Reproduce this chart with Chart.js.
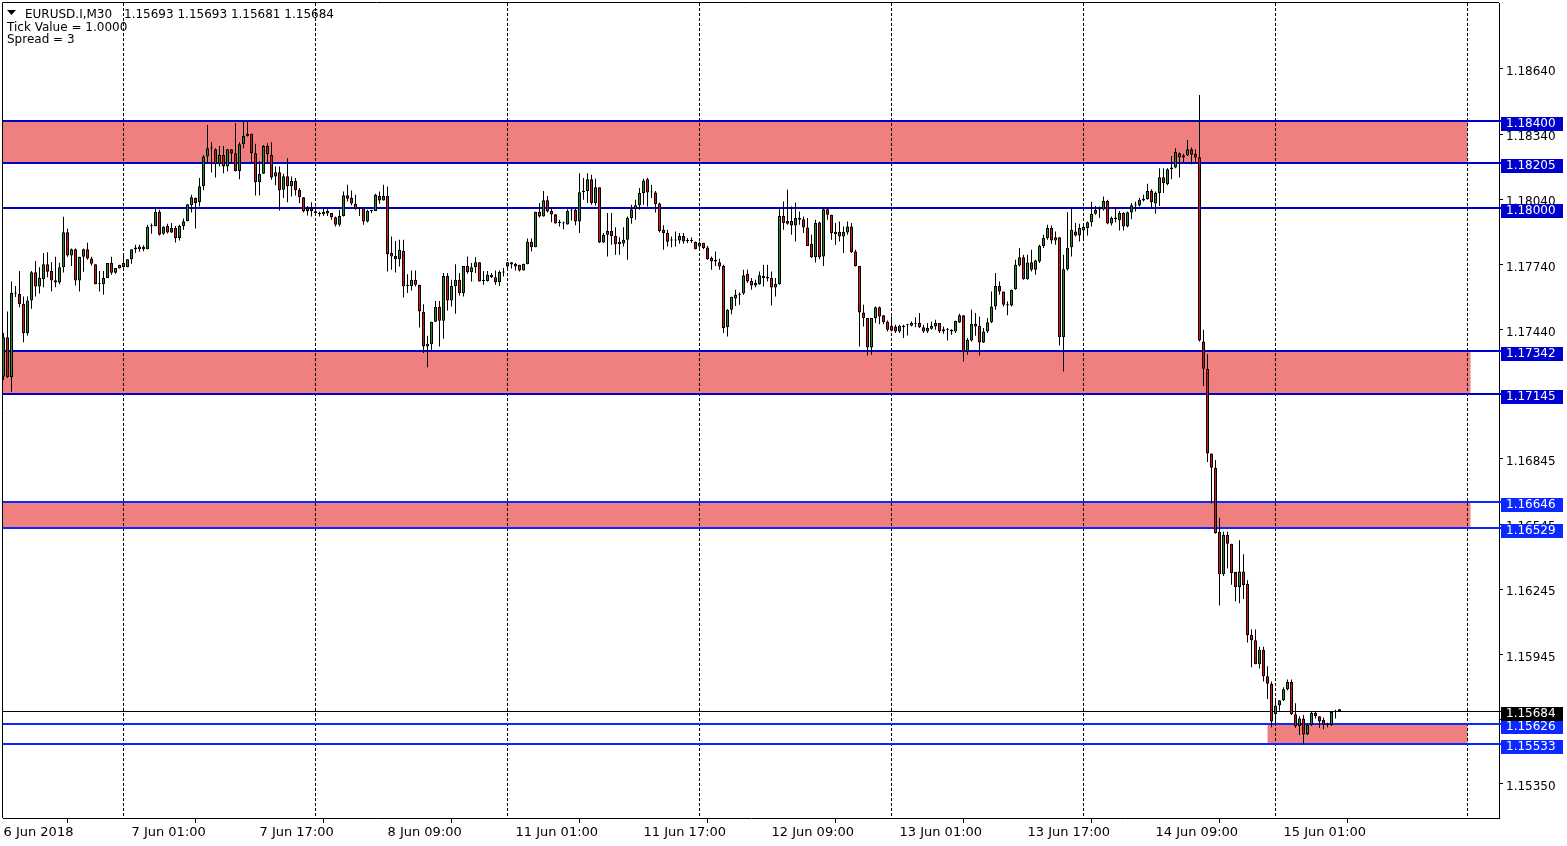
<!DOCTYPE html>
<html><head><meta charset="utf-8">
<script src="https://cdn.jsdelivr.net/npm/chart.js@4.4.1/dist/chart.umd.min.js"></script>
<style>html,body{margin:0;padding:0;background:#fff;overflow:hidden}canvas{display:block}</style>
</head><body>
<canvas id="c" width="1567" height="846"></canvas>
<script>
// ---- header texts ----
const symbolText = 'EURUSD.I,M30';
const ohlcText = '1.15693 1.15693 1.15681 1.15684';
const infoLines = ['Tick Value = 1.0000', 'Spread = 3'];

// ---- candles (M30 bars, index 0 = 6 Jun 2018 09:00) ----
const opens = [1.17224,1.17405,1.17220,1.17608,1.17605,1.17559,1.17424,1.17574,1.17704,1.17638,
1.17672,1.17741,1.17709,1.17667,1.17657,1.17727,1.17888,1.17781,1.17810,1.17666,
1.17775,1.17810,1.17767,1.17741,1.17649,1.17649,1.17677,1.17746,1.17701,1.17721,
1.17746,1.17727,1.17764,1.17810,1.17810,1.17821,1.17810,1.17916,1.17916,1.17982,
1.17881,1.17917,1.17887,1.17907,1.17861,1.17917,1.17939,1.18012,1.18045,1.18026,
1.18100,1.18236,1.18273,1.18270,1.18201,1.18244,1.18190,1.18270,1.18252,1.18170,
1.18293,1.18331,1.18341,1.18252,1.18118,1.18157,1.18285,1.18244,1.18144,1.18164,
1.18083,1.18146,1.18100,1.18124,1.18083,1.18049,1.17985,1.18000,1.17985,1.17977,
1.17971,1.17986,1.17976,1.17957,1.17922,1.17963,1.18058,1.18046,1.18019,1.17997,
1.18002,1.17937,1.17986,1.17986,1.18055,1.18034,1.18055,1.17792,1.17779,1.17764,
1.17802,1.17640,1.17640,1.17669,1.17646,1.17522,1.17362,1.17372,1.17476,1.17545,
1.17480,1.17686,1.17574,1.17640,1.17669,1.17608,1.17733,1.17704,1.17727,1.17750,
1.17664,1.17664,1.17692,1.17681,1.17658,1.17703,1.17730,1.17750,1.17743,1.17738,
1.17712,1.17741,1.17844,1.17819,1.17982,1.17960,1.18035,1.17986,1.17971,1.17930,
1.17930,1.17924,1.17988,1.17991,1.17937,1.18072,1.18078,1.18132,1.18022,1.18095,
1.17841,1.17876,1.17894,1.17871,1.17833,1.17836,1.17853,1.17953,1.17994,1.18012,
1.18068,1.18132,1.18071,1.18071,1.18020,1.17899,1.17884,1.17850,1.17850,1.17850,
1.17871,1.17848,1.17848,1.17844,1.17822,1.17839,1.17818,1.17769,1.17761,1.17750,
1.17733,1.17451,1.17531,1.17583,1.17600,1.17606,1.17697,1.17664,1.17643,1.17649,
1.17687,1.17683,1.17677,1.17634,1.17649,1.17963,1.17940,1.17940,1.17919,1.17945,
1.17948,1.17910,1.17835,1.17773,1.17933,1.17776,1.17994,1.17968,1.17879,1.17890,
1.17868,1.17887,1.17914,1.17799,1.17733,1.17519,1.17493,1.17358,1.17493,1.17543,
1.17506,1.17476,1.17457,1.17454,1.17431,1.17457,1.17460,1.17457,1.17467,1.17470,
1.17451,1.17431,1.17444,1.17454,1.17470,1.17442,1.17439,1.17439,1.17431,1.17473,
1.17506,1.17339,1.17390,1.17467,1.17457,1.17381,1.17431,1.17474,1.17546,1.17641,
1.17615,1.17557,1.17551,1.17626,1.17735,1.17773,1.17672,1.17750,1.17715,1.17753,
1.17825,1.17861,1.17907,1.17850,1.17865,1.17405,1.17718,1.17819,1.17891,1.17873,
1.17896,1.17907,1.17934,1.17973,1.17993,1.17993,1.18032,1.17928,1.17948,1.17943,
1.17976,1.17914,1.17979,1.18011,1.18011,1.18034,1.18040,1.18078,1.18020,1.18068,
1.18141,1.18109,1.18178,1.18186,1.18252,1.18232,1.18242,1.18270,1.18249,1.18233,
1.17385,1.17260,1.16870,1.16804,1.16510,1.16314,1.16494,1.16454,1.16324,1.16254,
1.16326,1.16270,1.16034,1.16010,1.15900,1.15966,1.15844,1.15810,1.15670,1.15710,
1.15734,1.15784,1.15818,1.15670,1.15614,1.15650,1.15576,1.15620,1.15676,1.15660,
1.15644,1.15620,1.15620,1.15680,1.15693];

const highs = [1.17424,1.17523,1.17661,1.17640,1.17709,1.17592,1.17592,1.17709,1.17756,1.17727,
1.17792,1.17796,1.17750,1.17775,1.17747,1.17959,1.17905,1.17813,1.17813,1.17775,
1.17813,1.17839,1.17775,1.17741,1.17709,1.17709,1.17746,1.17775,1.17723,1.17738,
1.17787,1.17764,1.17810,1.17830,1.17830,1.17828,1.17922,1.17928,1.18000,1.17991,
1.17916,1.17927,1.17930,1.17917,1.17922,1.17951,1.18017,1.18060,1.18048,1.18138,
1.18244,1.18382,1.18302,1.18275,1.18285,1.18285,1.18270,1.18270,1.18390,1.18302,
1.18397,1.18397,1.18341,1.18295,1.18216,1.18290,1.18298,1.18302,1.18190,1.18190,
1.18157,1.18229,1.18144,1.18137,1.18091,1.18049,1.18009,1.18026,1.18006,1.17982,
1.17997,1.17994,1.17976,1.17960,1.17991,1.18075,1.18106,1.18080,1.18060,1.18002,
1.18002,1.17991,1.17991,1.18065,1.18075,1.18106,1.18098,1.17868,1.17848,1.17853,
1.17853,1.17695,1.17712,1.17712,1.17646,1.17557,1.17411,1.17476,1.17572,1.17572,
1.17700,1.17700,1.17669,1.17741,1.17700,1.17733,1.17776,1.17746,1.17773,1.17750,
1.17710,1.17710,1.17700,1.17712,1.17712,1.17723,1.17750,1.17750,1.17746,1.17738,
1.17743,1.17859,1.17859,1.17982,1.18022,1.18078,1.18055,1.17997,1.17971,1.17945,
1.17937,1.17994,1.17994,1.17997,1.18160,1.18137,1.18160,1.18152,1.18134,1.18095,
1.17884,1.17976,1.17976,1.17911,1.17865,1.17911,1.17960,1.18014,1.18037,1.18091,
1.18134,1.18137,1.18106,1.18078,1.18025,1.17920,1.17899,1.17868,1.17891,1.17884,
1.17884,1.17861,1.17864,1.17845,1.17845,1.17840,1.17825,1.17776,1.17799,1.17766,
1.17738,1.17534,1.17591,1.17623,1.17611,1.17715,1.17715,1.17677,1.17669,1.17707,
1.17738,1.17738,1.17707,1.17677,1.17994,1.18029,1.18083,1.18006,1.18025,1.17983,
1.17960,1.17953,1.17876,1.17945,1.17937,1.17999,1.17999,1.17968,1.17930,1.17937,
1.17914,1.17937,1.17930,1.17807,1.17733,1.17554,1.17493,1.17493,1.17546,1.17546,
1.17506,1.17482,1.17500,1.17462,1.17462,1.17462,1.17467,1.17477,1.17497,1.17516,
1.17462,1.17470,1.17477,1.17485,1.17470,1.17454,1.17447,1.17442,1.17480,1.17513,
1.17506,1.17401,1.17531,1.17516,1.17500,1.17447,1.17493,1.17615,1.17700,1.17661,
1.17615,1.17569,1.17623,1.17761,1.17815,1.17784,1.17784,1.17807,1.17761,1.17830,
1.17876,1.17922,1.17919,1.17891,1.17865,1.17784,1.17980,1.17999,1.17930,1.17927,
1.17930,1.17937,1.18028,1.18009,1.18006,1.18052,1.18037,1.17960,1.18002,1.17986,
1.17980,1.17983,1.18022,1.18028,1.18045,1.18060,1.18111,1.18086,1.18075,1.18183,
1.18183,1.18183,1.18239,1.18275,1.18255,1.18249,1.18313,1.18278,1.18270,1.18520,
1.17439,1.17326,1.16870,1.16840,1.16574,1.16510,1.16510,1.16454,1.16324,1.16470,
1.16406,1.16286,1.16060,1.16060,1.15980,1.15980,1.15890,1.15820,1.15730,1.15734,
1.15794,1.15830,1.15830,1.15720,1.15660,1.15666,1.15626,1.15680,1.15684,1.15660,
1.15654,1.15630,1.15680,1.15690,1.15693];

const lows = [1.17209,1.17217,1.17154,1.17590,1.17543,1.17382,1.17413,1.17536,1.17592,1.17606,
1.17635,1.17681,1.17615,1.17635,1.17649,1.17703,1.17775,1.17732,1.17643,1.17615,
1.17706,1.17761,1.17735,1.17649,1.17615,1.17600,1.17677,1.17692,1.17697,1.17721,
1.17724,1.17727,1.17743,1.17792,1.17798,1.17801,1.17810,1.17881,1.17916,1.17873,
1.17876,1.17882,1.17884,1.17841,1.17850,1.17899,1.17939,1.17979,1.17905,1.18006,
1.18081,1.18206,1.18163,1.18140,1.18190,1.18160,1.18167,1.18206,1.18167,1.18132,
1.18275,1.18328,1.18209,1.18057,1.18057,1.18157,1.18206,1.18129,1.18104,1.17988,
1.18045,1.18026,1.18052,1.18057,1.18022,1.17980,1.17965,1.17960,1.17968,1.17960,
1.17963,1.17963,1.17945,1.17914,1.17914,1.17960,1.18029,1.18012,1.17991,1.17963,
1.17922,1.17933,1.17976,1.17986,1.18019,1.18034,1.17707,1.17715,1.17703,1.17730,
1.17588,1.17608,1.17620,1.17638,1.17450,1.17332,1.17266,1.17347,1.17476,1.17362,
1.17398,1.17528,1.17546,1.17513,1.17597,1.17592,1.17697,1.17661,1.17700,1.17661,
1.17646,1.17661,1.17677,1.17646,1.17641,1.17684,1.17721,1.17721,1.17712,1.17707,
1.17712,1.17741,1.17799,1.17819,1.17956,1.17960,1.17979,1.17934,1.17928,1.17914,
1.17902,1.17924,1.17942,1.17920,1.17884,1.18037,1.18022,1.18014,1.18011,1.17838,
1.17838,1.17776,1.17830,1.17784,1.17784,1.17822,1.17761,1.17927,1.17945,1.17991,
1.18014,1.18006,1.18045,1.17979,1.17887,1.17807,1.17822,1.17819,1.17822,1.17835,
1.17835,1.17838,1.17838,1.17810,1.17807,1.17810,1.17761,1.17715,1.17733,1.17715,
1.17424,1.17408,1.17511,1.17549,1.17554,1.17600,1.17654,1.17623,1.17635,1.17646,
1.17638,1.17661,1.17551,1.17592,1.17646,1.17899,1.17922,1.17876,1.17845,1.17922,
1.17884,1.17825,1.17769,1.17749,1.17764,1.17733,1.17945,1.17853,1.17830,1.17845,
1.17792,1.17876,1.17792,1.17730,1.17362,1.17454,1.17321,1.17324,1.17470,1.17465,
1.17465,1.17431,1.17431,1.17424,1.17424,1.17401,1.17413,1.17454,1.17451,1.17447,
1.17424,1.17424,1.17439,1.17439,1.17424,1.17421,1.17390,1.17416,1.17424,1.17470,
1.17293,1.17324,1.17385,1.17411,1.17321,1.17378,1.17424,1.17470,1.17531,1.17600,
1.17546,1.17506,1.17546,1.17623,1.17730,1.17669,1.17669,1.17707,1.17692,1.17746,
1.17815,1.17853,1.17835,1.17830,1.17367,1.17247,1.17712,1.17776,1.17868,1.17845,
1.17861,1.17873,1.17914,1.17968,1.17953,1.17988,1.17925,1.17919,1.17934,1.17896,
1.17896,1.17911,1.17948,1.17983,1.18006,1.18029,1.18037,1.17999,1.17973,1.18009,
1.18068,1.18104,1.18132,1.18183,1.18140,1.18206,1.18239,1.18201,1.18212,1.17385,
1.17180,1.16830,1.16640,1.16500,1.16170,1.16306,1.16340,1.16266,1.16190,1.16180,
1.16200,1.16000,1.15886,1.15900,1.15880,1.15820,1.15740,1.15610,1.15624,1.15686,
1.15730,1.15780,1.15666,1.15606,1.15574,1.15530,1.15574,1.15616,1.15650,1.15606,
1.15600,1.15610,1.15616,1.15650,1.15681];

const closes = [1.17405,1.17220,1.17608,1.17606,1.17557,1.17424,1.17574,1.17704,1.17638,1.17677,
1.17741,1.17706,1.17666,1.17657,1.17727,1.17888,1.17781,1.17810,1.17666,1.17775,
1.17810,1.17767,1.17743,1.17649,1.17651,1.17677,1.17746,1.17701,1.17723,1.17738,
1.17727,1.17764,1.17810,1.17818,1.17822,1.17810,1.17913,1.17915,1.17982,1.17876,
1.17913,1.17887,1.17907,1.17861,1.17917,1.17939,1.18017,1.18049,1.18022,1.18100,
1.18236,1.18275,1.18274,1.18201,1.18244,1.18190,1.18270,1.18250,1.18170,1.18293,
1.18331,1.18341,1.18252,1.18118,1.18157,1.18285,1.18247,1.18140,1.18164,1.18081,
1.18146,1.18100,1.18124,1.18081,1.18049,1.17985,1.18000,1.17985,1.17976,1.17971,
1.17982,1.17974,1.17957,1.17922,1.17963,1.18058,1.18042,1.18020,1.17994,1.17997,
1.17937,1.17986,1.17987,1.18060,1.18034,1.18055,1.17787,1.17776,1.17764,1.17807,
1.17638,1.17640,1.17669,1.17646,1.17523,1.17362,1.17375,1.17476,1.17545,1.17480,
1.17686,1.17574,1.17640,1.17669,1.17608,1.17733,1.17704,1.17727,1.17750,1.17661,
1.17664,1.17692,1.17681,1.17658,1.17705,1.17703,1.17750,1.17740,1.17730,1.17712,
1.17743,1.17844,1.17819,1.17982,1.17960,1.18035,1.17983,1.17970,1.17928,1.17930,
1.17928,1.17986,1.17988,1.17937,1.18072,1.18078,1.18132,1.18022,1.18095,1.17841,
1.17876,1.17894,1.17871,1.17833,1.17844,1.17853,1.17953,1.17994,1.18012,1.18068,
1.18126,1.18071,1.18071,1.18017,1.17894,1.17884,1.17844,1.17850,1.17850,1.17871,
1.17845,1.17848,1.17848,1.17810,1.17838,1.17815,1.17764,1.17753,1.17753,1.17730,
1.17447,1.17531,1.17591,1.17600,1.17605,1.17690,1.17661,1.17643,1.17654,1.17690,
1.17677,1.17675,1.17634,1.17651,1.17963,1.17930,1.17927,1.17919,1.17953,1.17954,
1.17910,1.17825,1.17773,1.17930,1.17773,1.17994,1.17968,1.17884,1.17890,1.17868,
1.17890,1.17914,1.17796,1.17733,1.17519,1.17493,1.17358,1.17493,1.17543,1.17500,
1.17474,1.17439,1.17434,1.17431,1.17457,1.17451,1.17460,1.17470,1.17467,1.17451,
1.17431,1.17447,1.17457,1.17470,1.17431,1.17431,1.17439,1.17431,1.17480,1.17506,
1.17339,1.17393,1.17467,1.17454,1.17381,1.17431,1.17474,1.17546,1.17641,1.17615,
1.17554,1.17551,1.17623,1.17738,1.17773,1.17672,1.17749,1.17715,1.17758,1.17825,
1.17861,1.17907,1.17850,1.17865,1.17405,1.17718,1.17815,1.17899,1.17873,1.17907,
1.17913,1.17934,1.17973,1.17991,1.17993,1.18032,1.17928,1.17953,1.17956,1.17976,
1.17914,1.17980,1.18012,1.18011,1.18037,1.18042,1.18078,1.18026,1.18068,1.18141,
1.18114,1.18178,1.18186,1.18258,1.18232,1.18242,1.18270,1.18245,1.18232,1.17390,
1.17260,1.16870,1.16804,1.16504,1.16314,1.16494,1.16454,1.16320,1.16254,1.16326,
1.16264,1.16034,1.16010,1.15900,1.15966,1.15844,1.15810,1.15636,1.15710,1.15734,
1.15784,1.15818,1.15670,1.15614,1.15650,1.15576,1.15620,1.15676,1.15660,1.15636,
1.15620,1.15622,1.15680,1.15686,1.15684];

// ---- axes ----
const xTickIndex  = [0, 32, 64, 96, 128, 160, 192, 224, 256, 288, 320];
const xTickLabels = ['6 Jun 2018','7 Jun 01:00','7 Jun 17:00','8 Jun 09:00','11 Jun 01:00','11 Jun 17:00','12 Jun 09:00','13 Jun 01:00','13 Jun 17:00','14 Jun 09:00','15 Jun 01:00'];
const daySeparators = [30, 78, 126, 174, 222, 270, 318, 366];
const yTickValues = [1.18640,1.18340,1.18040,1.17740,1.17440,1.17140,1.16845,1.16545,1.16245,1.15945,1.15645,1.15350];

// ---- drawn objects ----
const levelPrices = [1.18400,1.18205,1.18000,1.17342,1.17145,1.16646,1.16529,1.15626,1.15533];
const levelColors = ['#0000CD','#0000CD','#0000CD','#0000CD','#0000CD','#0A28FF','#0A28FF','#0A28FF','#0A28FF'];
const zoneLow   = [1.18205, 1.17145, 1.16529, 1.15533];
const zoneHigh  = [1.18400, 1.17342, 1.16646, 1.15626];
const zoneStart = [-2, -2, -2, 316];
const zoneEnd   = [366, 366.75, 366.75, 366];
const lastPrice = 1.15684;

const BULL = '#228B22', BEAR = '#E01010', ZONE = '#F08080';
const FONT = 'DejaVu Sans';

const bodyData = opens.map((o, i) => ({ x: i, y: [o, closes[i]] }));
const wickData = highs.map((h, i) => ({ x: i, y: [lows[i], h] }));
const bodyColors = opens.map((o, i) => closes[i] >= o ? BULL : BEAR);

const mt4 = {
  id: 'mt4',
  beforeDatasetsDraw(chart) {
    const { ctx, chartArea: a, scales: { x, y } } = chart;
    ctx.save();
    ctx.beginPath(); ctx.rect(a.left, a.top, a.right - a.left, a.bottom - a.top); ctx.clip();
    ctx.fillStyle = ZONE;
    zoneLow.forEach((lo, k) => {
      const x0 = Math.max(a.left, x.getPixelForValue(zoneStart[k]));
      const x1 = x.getPixelForValue(zoneEnd[k]);
      const yt = y.getPixelForValue(zoneHigh[k]), yb = y.getPixelForValue(lo);
      ctx.fillRect(x0, yt, x1 - x0, yb - yt);
    });
    ctx.strokeStyle = '#000'; ctx.lineWidth = 1; ctx.setLineDash([3, 2]);
    daySeparators.forEach(d => {
      const px = x.getPixelForValue(d);
      ctx.beginPath(); ctx.moveTo(px, a.top); ctx.lineTo(px, a.bottom); ctx.stroke();
    });
    ctx.setLineDash([]);
    ctx.restore();
    ctx.save();
    levelPrices.forEach((p, k) => {
      const py = Math.round(y.getPixelForValue(p));
      ctx.strokeStyle = levelColors[k]; ctx.lineWidth = 2;
      ctx.beginPath(); ctx.moveTo(a.left, py); ctx.lineTo(a.right + 4, py); ctx.stroke();
    });
    const lp = Math.round(y.getPixelForValue(lastPrice)) + 0.5;
    ctx.strokeStyle = '#000'; ctx.lineWidth = 1;
    ctx.beginPath(); ctx.moveTo(a.left, lp); ctx.lineTo(a.right + 4, lp); ctx.stroke();
    ctx.restore();
  },
  afterDraw(chart) {
    const { ctx, chartArea: a, scales: { y } } = chart;
    ctx.save();
    ctx.strokeStyle = '#000'; ctx.lineWidth = 1;
    ctx.beginPath(); ctx.moveTo(2.5, a.bottom); ctx.lineTo(2.5, 2.5); ctx.lineTo(a.right, 2.5); ctx.stroke();
    ctx.font = '12px "' + FONT + '"';
    ctx.textBaseline = 'middle'; ctx.textAlign = 'left';
    const box = (p, bg) => {
      const py = Math.round(y.getPixelForValue(p));
      ctx.fillStyle = bg; ctx.fillRect(a.right + 2, py - 4, 62, 14);
      ctx.fillStyle = '#fff'; ctx.fillText(p.toFixed(5), a.right + 7, py + 3);
    };
    levelPrices.forEach((p, k) => box(p, levelColors[k]));
    box(lastPrice, '#000');
    ctx.fillStyle = '#000';
    ctx.beginPath(); ctx.moveTo(7, 10); ctx.lineTo(16, 10); ctx.lineTo(11.5, 15); ctx.closePath(); ctx.fill();
    ctx.textBaseline = 'alphabetic';
    ctx.fillText(symbolText, 25, 18);
    ctx.fillText(ohlcText, 124, 18);
    ctx.fillText(infoLines[0], 7, 31);
    ctx.fillText(infoLines[1], 7, 43);
    ctx.restore();
  }
};

new Chart(document.getElementById('c'), {
  type: 'bar',
  data: { datasets: [
    { label: 'body', data: bodyData, backgroundColor: bodyColors, borderColor: '#000', borderWidth: 1,
      borderSkipped: false, barThickness: 3, grouped: false, order: 1, minBarLength: 1, inflateAmount: 0 },
    { label: 'wick', data: wickData, backgroundColor: '#000', borderWidth: 0,
      barThickness: 1, grouped: false, order: 2, inflateAmount: 0 }
  ]},
  options: {
    responsive: false, animation: false, devicePixelRatio: 1, events: [],
    layout: { padding: { left: 3, top: 3, right: 0, bottom: 0 } },
    plugins: { legend: { display: false }, tooltip: { enabled: false } },
    scales: {
      x: { type: 'linear', position: 'bottom', min: -0.125, max: 373.875, offset: false,
        afterBuildTicks: s => { s.ticks = xTickIndex.map(v => ({ value: v })); },
        afterFit: s => { s.height = 28; s.paddingLeft = 0; s.paddingRight = 0; },
        ticks: { autoSkip: false, maxRotation: 0, align: 'start', padding: 2, color: '#000',
          font: { family: FONT, size: 13 },
          callback: v => { const k = xTickIndex.indexOf(v); return k >= 0 ? xTickLabels[k] : ''; } },
        grid: { drawOnChartArea: false, drawTicks: true, tickLength: 5, tickColor: '#000' },
        border: { display: true, color: '#000', width: 1 } },
      y: { type: 'linear', position: 'right', min: 1.15192, max: 1.18943,
        afterBuildTicks: s => { s.ticks = yTickValues.map(v => ({ value: v })); },
        afterFit: s => { s.width = 68; s.paddingTop = 0; s.paddingBottom = 0; },
        ticks: { color: '#000', padding: 3, labelOffset: 3, font: { family: FONT, size: 12 }, callback: v => v.toFixed(5) },
        grid: { drawOnChartArea: false, drawTicks: true, tickLength: 4, tickColor: '#000' },
        border: { display: true, color: '#000', width: 1 } }
    }
  },
  plugins: [mt4]
});
</script>
</body></html>
